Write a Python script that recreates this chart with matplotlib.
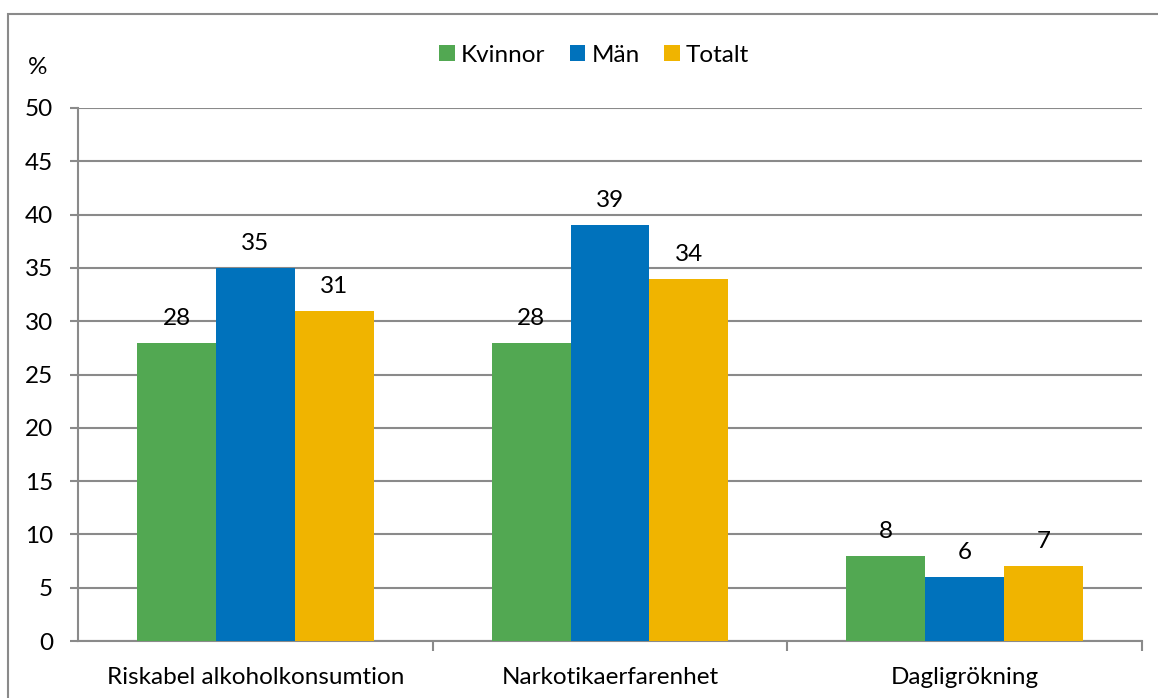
import matplotlib
matplotlib.use("Agg")
import matplotlib.pyplot as plt
from matplotlib.patches import Rectangle
import numpy as np

categories = ["Riskabel alkoholkonsumtion", "Narkotikaerfarenhet", "Dagligrökning"]
series_names = ["Kvinnor", "Män", "Totalt"]
kvinnor = [28, 28, 8]
man = [35, 39, 6]
totalt = [31, 34, 7]
yticks = [0, 5, 10, 15, 20, 25, 30, 35, 40, 45, 50]

colors = ["#52A852", "#0072BC", "#F0B400"]
plt.rcParams['font.family'] = ['Lato', 'DejaVu Sans']
FS = 17.5

W, H = 1158, 698
fig = plt.figure(figsize=(W/100, H/100), dpi=100)
ax = fig.add_axes([78/W, 1-641/H, (1142-78)/W, (641-108)/H])

# figure border
fig.patches.append(Rectangle((8/W, -0.1), 1.2, 1-14/H+0.1, transform=fig.transFigure,
                             fill=False, edgecolor="#8a8a8a", linewidth=1.5, zorder=0))

x = np.arange(len(categories))
bw = 0.2222
data = [kvinnor, man, totalt]
for i, (vals, name, c) in enumerate(zip(data, series_names, colors)):
    pos = x + (i-1)*bw
    ax.bar(pos, vals, width=bw, color=c, label=name, zorder=3)
    for p, v in zip(pos, vals):
        ax.annotate(str(v), (p, v), xytext=(0, 10), textcoords="offset points",
                    ha="center", va="bottom", fontsize=FS, color="black")

ax.set_xlim(-0.5, 2.5)
ax.set_ylim(0, 50)
ax.set_yticks(yticks)
ax.set_yticklabels([str(t) for t in yticks], fontsize=FS)
ax.yaxis.grid(True, color="#8a8a8a", linewidth=1.5, zorder=0)
ax.set_axisbelow(True)
for s in ["top", "right"]:
    ax.spines[s].set_visible(False)
ax.spines["left"].set_color("#8a8a8a")
ax.spines["left"].set_linewidth(1.5)
ax.spines["bottom"].set_color("#8a8a8a")
ax.spines["bottom"].set_linewidth(1.5)
ax.tick_params(axis="y", length=6, width=1.5, color="#8a8a8a", pad=12)
ax.set_xticks([0.5, 1.5, 2.5], minor=False)
ax.set_xticklabels(["", "", ""])
ax.tick_params(axis="x", which="major", length=7, width=1.5, color="#8a8a8a")
ax.set_xticks(x, minor=True)
ax.set_xticklabels(categories, minor=True, fontsize=FS)
ax.tick_params(axis="x", which="minor", length=0, pad=19)

fig.text(38/W, 1-68/H, "%", fontsize=FS, ha="center", va="center")

leg = fig.legend(loc="center", bbox_to_anchor=(594/W, 1-55/H), ncol=3, frameon=False,
                 fontsize=FS, handlelength=0.65, handleheight=0.65, handletextpad=0.25,
                 columnspacing=1.0)

fig.savefig("out.png", dpi=100)
